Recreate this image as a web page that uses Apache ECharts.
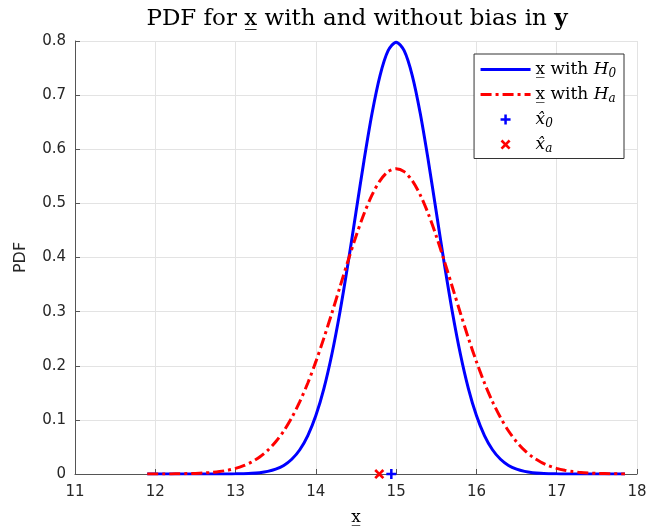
<!DOCTYPE html>
<html>
<head>
<meta charset="utf-8">
<script src="https://cdn.jsdelivr.net/npm/echarts@6/dist/echarts.min.js"></script>
<style>
  html, body { margin: 0; padding: 0; background: #fff; }
  #chart { width: 646px; height: 526px; }
</style>
</head>
<body>
<div id="chart"></div>
<script>
// x positions of the curve samples
const xs = [11.9, 12.0, 12.1, 12.2, 12.3, 12.4, 12.5, 12.6, 12.7, 12.8, 12.9,
    13.0, 13.1, 13.2, 13.3, 13.4, 13.5, 13.6, 13.7, 13.8, 13.9,
    14.0, 14.1, 14.2, 14.3, 14.4, 14.5, 14.6, 14.7, 14.8, 14.9,
    15.0, 15.1, 15.2, 15.3, 15.4, 15.5, 15.6, 15.7, 15.8, 15.9,
    16.0, 16.1, 16.2, 16.3, 16.4, 16.5, 16.6, 16.7, 16.8, 16.9,
    17.0, 17.1, 17.2, 17.3, 17.4, 17.5, 17.6, 17.7, 17.8, 17.85];

// PDF under H0 (blue)
const pdfH0 = [0, 0, 0, 0, 0, 0, 0, 0, 0, 0,
    0.0001, 0.0003, 0.0006, 0.0012, 0.0025, 0.0048, 0.0089, 0.0158, 0.0272, 0.0448,
    0.0710, 0.1080, 0.1579, 0.2218, 0.2995, 0.3884, 0.4839, 0.5794, 0.6665, 0.7366,
    0.7821, 0.7979,
    0.7821, 0.7366, 0.6665, 0.5794, 0.4839, 0.3884, 0.2995, 0.2218, 0.1579, 0.1080,
    0.0710, 0.0448, 0.0272, 0.0158, 0.0089, 0.0048, 0.0025, 0.0012, 0.0006, 0.0003,
    0.0001, 0, 0, 0, 0, 0, 0, 0, 0];

// PDF under Ha (red)
const pdfHa = [0.0000, 0.0001, 0.0001, 0.0002, 0.0004, 0.0007, 0.0011, 0.0018, 0.0028, 0.0045,
    0.0069, 0.0103, 0.0153, 0.0221, 0.0314, 0.0436, 0.0595, 0.0795, 0.1041, 0.1337,
    0.1682, 0.2076, 0.2510, 0.2975, 0.3456, 0.3936, 0.4394, 0.4808, 0.5156, 0.5421,
    0.5586, 0.5642,
    0.5586, 0.5421, 0.5156, 0.4808, 0.4394, 0.3936, 0.3456, 0.2975, 0.2510, 0.2076,
    0.1682, 0.1337, 0.1041, 0.0795, 0.0595, 0.0436, 0.0314, 0.0221, 0.0153, 0.0103,
    0.0069, 0.0045, 0.0028, 0.0018, 0.0011, 0.0007, 0.0004, 0.0002, 0.0002];

// estimates
const xHat0 = [14.94, 0];
const xHatA = [14.79, 0];

const serif = '"DejaVu Serif", "Liberation Serif", serif';
const sans = '"DejaVu Sans", sans-serif';

const plusPath = 'path://M3,0H5V3H8V5H5V8H3V5H0V3H3Z';
const crossPath = 'path://M0,1.5L1.5,0L4,2.5L6.5,0L8,1.5L5.5,4L8,6.5L6.5,8L4,5.5L1.5,8L0,6.5L2.5,4Z';

const legendText = {
    h0: 'x\u0332 with {i|H}{s|0}{p| }',
    ha: 'x\u0332 with {i|H}{s|a}{p| }',
    x0: '{i|x\u0302}{s|0}',
    xa: '{i|x\u0302}{s|a}'
};

const chart = echarts.init(document.getElementById('chart'));

chart.setOption({
    animation: false,
    title: {
        text: 'PDF for x\u0332 with and without bias in {b|y}',
        left: 352,
        textAlign: 'center',
        top: 3,
        textStyle: {
            fontFamily: serif,
            fontSize: 23,
            fontWeight: 'normal',
            color: '#000',
            rich: {
                b: { fontFamily: serif, fontSize: 23, fontWeight: 'bold', color: '#000' }
            }
        }
    },
    grid: { left: 75, right: 9, top: 41, bottom: 52, outerBoundsMode: 'none', containLabel: false },
    legend: {
        orient: 'vertical',
        right: 22,
        top: 54,
        padding: [7, 4, 4, 5],
        itemWidth: 50,
        itemHeight: 10,
        itemGap: 6.5,
        backgroundColor: '#fff',
        borderColor: '#333',
        borderWidth: 1,
        borderRadius: 0,
        data: [
            { name: 'h0', itemStyle: { opacity: 0 }, lineStyle: { width: 3 } },
            { name: 'ha', itemStyle: { opacity: 0 }, lineStyle: { width: 3 } },
            { name: 'x0', itemStyle: { opacity: 1 } },
            { name: 'xa', itemStyle: { opacity: 1 } }
        ],
        formatter: n => legendText[n],
        textStyle: {
            fontFamily: serif,
            fontSize: 17,
            color: '#000',
            rich: {
                i: { fontFamily: serif, fontSize: 17, fontStyle: 'italic', color: '#000' },
                s: { fontFamily: serif, fontSize: 12, fontStyle: 'italic', color: '#000', padding: [8, 0, 0, 0] },
                p: { fontSize: 12, width: 13 }
            }
        }
    },
    xAxis: {
        type: 'value',
        min: 11,
        max: 18,
        interval: 1,
        name: 'x\u0332',
        nameLocation: 'middle',
        nameGap: 35,
        nameTextStyle: { fontFamily: serif, fontSize: 17, color: '#000' },
        axisLine: { lineStyle: { color: '#555', width: 1 } },
        axisTick: { inside: true, length: 5, lineStyle: { color: '#555' } },
        axisLabel: { fontFamily: sans, fontSize: 15, color: '#262626', margin: 11 },
        splitLine: { show: true, lineStyle: { color: '#e3e3e3', width: 1 } }
    },
    yAxis: {
        type: 'value',
        min: 0,
        max: 0.8,
        interval: 0.1,
        name: 'PDF',
        nameLocation: 'middle',
        nameGap: 46,
        nameTextStyle: { fontFamily: sans, fontSize: 16, color: '#262626' },
        axisLine: { show: true, lineStyle: { color: '#555', width: 1 } },
        axisTick: { show: true, inside: true, length: 5, lineStyle: { color: '#555' } },
        axisLabel: { fontFamily: sans, fontSize: 15, color: '#262626', margin: 9 },
        splitLine: { show: true, lineStyle: { color: '#e3e3e3', width: 1 } }
    },
    series: [
        {
            name: 'h0',
            type: 'line',
            data: xs.map((x, i) => [x, pdfH0[i]]),
            showSymbol: false,
            symbol: 'none',
            smooth: 0.3,
            lineStyle: { color: '#0000ff', width: 3 },
            itemStyle: { color: '#0000ff' },
            z: 2
        },
        {
            name: 'ha',
            type: 'line',
            data: xs.map((x, i) => [x, pdfHa[i]]),
            showSymbol: false,
            symbol: 'none',
            smooth: 0.3,
            lineStyle: { color: '#ff0000', width: 3, type: [11, 4, 3, 4] },
            itemStyle: { color: '#ff0000' },
            z: 3
        },
        {
            name: 'x0',
            type: 'scatter',
            data: [xHat0],
            symbol: plusPath,
            symbolSize: 10,
            symbolKeepAspect: true,
            itemStyle: { color: '#0000ff', opacity: 1 },
            z: 5
        },
        {
            name: 'xa',
            type: 'scatter',
            data: [xHatA],
            symbol: crossPath,
            symbolSize: 10,
            symbolKeepAspect: true,
            itemStyle: { color: '#ff0000', opacity: 1 },
            z: 5
        }
    ]
});
</script>
</body>
</html>
